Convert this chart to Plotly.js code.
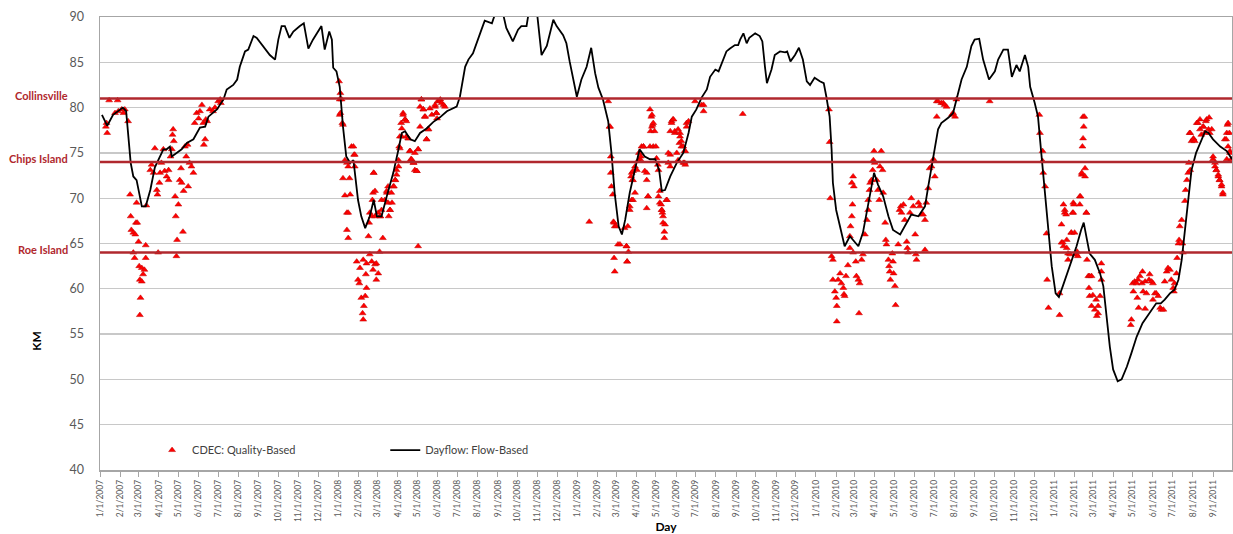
<!DOCTYPE html>
<html>
<head>
<meta charset="utf-8">
<script src="https://cdn.plot.ly/plotly-3.0.1.min.js"></script>
<style>html,body{margin:0;padding:0;background:#fff;}#chart{width:1233px;height:534px;}</style>
</head>
<body>
<div id="chart"></div>
<script>
// Days counted from 1/1/2007 (day 0)
const startDate = '2007-01-01';

// Dayflow: Flow-Based (X2, km) – day offsets and values
const flowDay = [3,11,20,35,40,43,47,51,56,61,64,70,77,84,97,102,107,110,117,125,133,143,153,161,166,179,189,194,204,210,214,222,227,235,240,250,260,268,273,278,283,290,296,306,312,319,326,339,344,351,355,357,362,367,372,377,383,388,395,400,406,413,419,424,431,439,449,457,462,467,475,482,490,500,510,520,531,546,551,559,564,571,576,584,589,600,607,615,622,632,640,645,653,657,663,669,676,684,694,699,709,714,719,730,737,745,752,758,763,770,778,783,788,794,799,804,811,819,826,834,842,850,856,860,865,873,883,893,901,906,913,921,929,934,942,947,952,959,964,972,977,980,985,990,994,1003,1010,1014,1018,1021,1028,1033,1041,1049,1052,1057,1064,1070,1076,1082,1087,1094,1102,1108,1112,1117,1120,1122,1127,1135,1140,1148,1156,1161,1168,1174,1179,1185,1191,1199,1207,1214,1225,1232,1242,1253,1263,1268,1276,1283,1288,1299,1306,1314,1319,1327,1334,1339,1346,1352,1361,1370,1375,1383,1390,1396,1403,1408,1416,1421,1424,1431,1436,1441,1446,1452,1457,1463,1468,1474,1485,1495,1502,1506,1511,1515,1523,1531,1536,1541,1546,1551,1558,1564,1572,1579,1587,1596,1602,1610,1617,1624,1630,1638,1645,1651,1656,1661,1666,1671,1678,1684,1692,1697,1704,1715,1725,1733];
const flowKm = [79.2,78.0,79.2,80.0,79.6,77.2,73.9,72.4,72.0,70.2,69.1,69.1,70.9,73.4,75.4,75.4,75.7,74.6,75.0,75.4,76.1,76.5,77.8,77.9,79.0,79.8,80.9,82.0,82.5,83.1,84.5,86.2,86.4,87.9,87.7,86.8,85.8,85.3,87.5,89.0,89.0,87.7,88.4,89.0,89.3,86.5,87.5,89.0,86.4,88.4,87.5,84.4,84.0,82.3,77.9,74.6,73.9,74.2,69.8,68.0,66.7,68.0,69.8,68.0,68.0,70.2,72.8,75.4,77.2,77.4,76.5,76.3,77.2,77.7,78.4,78.9,79.6,80.1,81.2,84.5,85.3,86.0,87.1,88.6,89.6,89.3,90.8,91.0,88.8,87.3,88.6,89.0,89.0,90.8,91.5,90.5,85.8,86.8,89.7,89.0,88.0,87.1,85.1,81.2,83.1,84.5,86.6,83.8,82.2,80.9,78.5,75.0,70.5,66.9,66.0,67.6,70.6,73.1,75.4,74.6,74.3,74.3,73.1,70.8,70.9,72.4,73.9,75.0,77.2,79.0,79.8,81.1,82.0,83.4,84.2,84.0,84.9,86.2,86.5,86.9,86.9,87.5,88.2,87.1,87.7,88.2,87.9,87.3,84.5,82.7,84.2,85.8,86.2,86.1,86.2,85.1,85.8,86.6,85.3,82.9,82.5,83.3,82.9,82.7,81.2,79.0,75.4,71.7,68.7,66.2,64.7,65.8,65.1,64.7,66.2,68.4,70.6,72.8,71.5,70.2,68.0,66.5,66.0,66.9,68.2,68.0,69.1,71.3,74.6,77.6,78.3,78.9,79.4,81.6,83.1,84.5,86.8,87.5,87.6,85.3,83.1,84.0,85.3,86.4,86.4,83.4,84.7,84.0,85.8,84.5,82.3,80.5,79.0,75.0,71.0,66.0,62.5,59.5,59.1,60.3,62.5,64.7,66.5,67.3,65.4,63.9,63.2,61.7,60.3,56.6,53.6,51.1,49.8,50.0,51.4,52.9,54.7,56.2,56.8,57.7,58.4,58.4,58.8,59.5,59.9,61.0,63.2,66.5,70.2,73.1,75.0,76.1,77.4,77.2,76.5,75.7,75.2,74.3];

// CDEC: Quality-Based (X2, km) – day offsets and values
const cdecDay = [9,10,11,14,23,27,28,33,36,38,43,46,47,48,51,51,53,54,55,56,57,59,60,61,61,62,64,64,66,68,70,70,71,77,79,82,84,87,88,89,91,92,94,97,99,102,105,105,108,110,111,112,113,115,116,117,118,120,122,124,125,127,128,130,132,134,135,137,140,143,145,148,151,153,156,158,159,161,162,164,168,173,176,181,184,185,
366,367,367,368,368,370,371,372,372,375,375,378,378,378,380,380,380,382,383,385,388,389,390,390,393,395,397,398,400,402,403,403,404,406,407,408,408,411,412,413,413,416,416,417,418,418,419,419,421,421,421,423,423,426,426,428,429,429,431,431,433,436,439,439,441,441,442,444,444,446,447,449,450,452,452,454,454,457,457,458,459,459,461,462,462,464,464,467,467,469,469,472,472,474,475,476,477,480,480,482,482,485,485,487,487,487,490,490,492,492,495,495,497,498,500,500,502,503,505,508,513,513,515,515,516,517,520,521,523,526,528,
749,778,780,781,782,782,783,785,786,787,787,788,788,790,793,796,803,806,806,807,807,808,809,811,811,813,814,814,815,816,816,816,819,819,822,824,825,827,828,829,832,832,834,837,837,837,839,839,842,842,843,844,845,845,846,847,847,849,851,852,854,855,855,857,857,859,860,860,861,862,862,864,864,865,867,868,870,870,873,873,873,875,875,877,878,880,880,883,885,885,887,888,888,890,890,893,893,895,895,896,896,898,898,901,911,921,924,924,984,
1116,1117,1118,1120,1122,1122,1125,1127,1128,1128,1130,1133,1135,1138,1139,1140,1142,1145,1148,1148,1149,1151,1151,1152,1153,1153,1154,1157,1158,1161,1162,1163,1166,1168,1171,1174,1176,1176,1178,1179,1181,1183,1184,1185,1186,1189,1191,1193,1194,1196,1198,1199,1202,1203,1204,1207,1208,1209,1210,1213,1214,1215,1217,1218,1222,1224,1226,1227,1230,1232,1235,1236,1237,1240,1242,1245,1248,1249,1250,1253,1255,1258,1260,1263,1263,1265,1268,1270,1273,1276,1278,1281,1281,1283,1288,1291,1293,1296,1304,1306,1309,1311,1362,
1438,1439,1443,1443,1444,1447,1449,1450,1452,1469,1469,1472,1472,1474,1475,1475,1477,1477,1479,1480,1480,1482,1482,1485,1487,1487,1489,1490,1490,1491,1492,1494,1495,1496,1497,1500,1500,1501,1503,1503,1504,1505,1505,1506,1507,1508,1508,1510,1510,1511,1513,1514,1515,1515,1518,1518,1520,1523,1525,1526,1528,1528,1531,1533,1533,1533,
1578,1579,1581,1582,1584,1587,1588,1589,1590,1592,1595,1596,1597,1600,1600,1602,1606,1607,1610,1612,1612,1615,1617,1620,1623,1625,1628,1630,1633,1635,1638,1640,1643,1644,1645,1648,1649,1651,1652,1653,1656,1657,1658,1661,1662,1664,1666,1667,1668,1669,1669,1671,1674,1674,1676,1679,1681,1684,1684,1686,1689,1689,1691,1693,1694,1697,1698,1699,1702,1704,1704,1707,1707,1709,1709,1712,1712,1714,1714,1717,1717,1719,1719,1722,1724,1725,1725,1726,1727,1727,1729,1730,1730,1732];
const cdecKm = [77.9,78.3,77.2,80.8,79.4,80.8,79.6,79.8,79.4,79.8,78.5,70.4,68.0,66.5,66.2,64.0,63.4,66.0,67.3,69.5,67.3,65.2,62.5,61.0,57.1,59.0,62.3,60.8,61.6,62.1,63.4,64.8,69.2,73.1,73.7,72.8,75.5,70.9,70.4,64.0,71.7,72.8,73.9,75.4,73.0,72.4,72.0,73.1,74.6,75.4,77.0,77.6,76.3,70.2,68.0,63.6,65.4,69.3,72.0,73.3,71.7,66.3,70.8,75.7,74.6,75.9,71.3,73.9,73.5,72.8,78.3,79.4,78.8,79.6,80.3,78.3,75.9,76.5,78.7,78.5,79.8,79.6,80.0,80.7,80.9,80.5,
82.9,80.9,79.2,79.4,81.6,80.9,78.3,72.2,78.1,74.2,70.3,73.9,68.4,66.5,73.5,68.4,65.6,72.2,70.4,75.7,75.7,74.8,73.5,74.8,63.0,61.0,60.6,62.3,59.0,57.3,63.2,56.6,58.1,59.2,61.6,62.8,60.1,65.8,67.3,63.8,68.4,63.0,68.0,69.8,62.1,70.6,72.8,72.8,70.8,62.7,68.0,62.8,61.0,61.7,68.4,64.1,68.0,68.0,68.7,69.8,65.6,69.8,70.6,70.8,71.3,69.5,68.0,68.7,68.7,70.6,69.5,71.3,71.3,72.0,72.0,72.6,73.1,73.5,74.2,75.7,75.5,76.8,78.3,77.7,76.8,79.4,79.2,78.7,78.7,76.8,78.5,76.6,76.6,75.2,75.2,74.3,74.3,73.9,73.9,73.1,75.0,73.0,73.0,75.4,64.7,75.4,77.9,80.1,80.9,80.9,79.8,79.8,79.0,79.0,76.5,76.5,77.6,77.6,79.9,79.2,80.1,80.3,79.4,79.4,78.8,80.7,80.7,80.9,80.5,80.3,80.1,
67.4,80.7,77.9,77.9,74.6,72.8,71.3,70.4,67.4,63.4,67.3,66.9,61.9,66.9,64.9,64.9,66.7,64.7,64.7,63.0,63.0,66.9,64.1,69.1,68.7,72.4,69.8,72.8,72.0,73.0,72.0,69.8,73.5,70.6,73.1,74.2,75.0,74.3,74.6,75.7,75.7,75.7,73.0,72.0,72.8,68.9,70.2,70.2,75.7,79.8,77.4,79.0,79.2,77.9,78.1,75.7,78.3,77.4,75.7,74.4,73.7,73.1,70.2,70.8,69.5,69.3,68.7,68.7,68.4,67.3,68.0,66.3,65.6,67.1,69.8,69.8,73.9,75.0,74.8,77.4,73.5,78.5,78.3,78.7,78.7,77.2,77.4,75.0,77.6,74.2,76.1,76.8,77.2,76.3,75.7,75.7,73.9,75.2,73.9,75.2,73.7,78.3,77.9,78.5,80.7,80.3,80.3,79.6,79.3,
79.8,76.2,70.0,63.6,63.2,61.0,59.7,59.0,58.1,56.4,61.0,61.7,60.6,60.1,59.4,59.2,61.4,62.6,64.5,65.8,66.9,68.0,71.7,69.3,72.4,64.0,71.3,63.0,61.4,61.0,57.3,60.6,63.2,63.8,66.0,67.6,68.7,69.8,70.9,71.7,72.0,73.1,74.2,75.2,73.9,72.0,70.9,69.8,73.5,75.2,73.1,70.6,67.3,65.4,64.9,63.2,62.5,61.9,61.0,63.9,63.0,61.7,60.3,58.2,64.9,68.7,69.1,68.4,69.3,67.6,65.2,64.5,64.0,68.4,70.0,69.1,66.0,63.8,63.2,69.5,69.1,68.2,68.2,67.6,64.3,69.5,71.1,73.3,73.5,74.3,72.4,79.0,80.7,80.7,80.5,80.5,80.3,80.1,79.2,79.4,79.0,80.9,80.7,
79.2,77.2,75.2,74.1,72.8,71.3,66.1,61.0,57.9,57.1,59.5,67.1,65.1,65.1,69.3,64.7,68.7,68.4,68.2,65.4,64.5,63.2,63.9,63.8,66.2,66.2,68.4,69.5,68.4,69.3,66.2,63.8,63.8,64.1,63.6,69.3,70.2,70.2,72.6,72.8,75.7,76.6,79.0,77.9,79.0,73.3,72.4,68.4,68.4,63.2,61.4,60.1,61.4,59.2,61.4,58.1,59.3,57.7,58.8,57.0,57.3,58.1,59.2,61.0,61.9,62.8,
56.0,56.6,60.6,59.7,60.8,60.6,59.0,61.0,57.9,61.4,60.6,61.9,59.7,60.8,57.8,59.5,61.0,61.6,60.8,60.6,58.8,59.5,59.5,59.2,57.9,57.7,57.7,60.8,61.9,62.3,62.1,61.0,60.1,59.7,60.6,61.7,63.4,65.0,65.4,66.9,67.6,65.0,64.0,69.7,70.9,72.0,72.8,73.9,77.2,73.1,77.2,76.3,76.6,76.5,76.3,78.3,78.3,77.6,78.7,77.0,77.9,77.9,77.2,78.5,78.7,77.6,78.9,77.2,77.6,74.3,74.6,73.5,73.9,73.1,73.1,72.6,72.4,72.0,72.0,71.3,71.5,70.4,70.6,76.5,76.5,74.3,77.2,78.1,78.3,75.7,77.2,75.2,75.0,74.3];

// Reference locations (km)
const refNames = ['Collinsville', 'Chips Island', 'Roe Island'];
const refKm = [81, 74, 64];

const axisRange = ['2007-01-01', '2011-09-30'];
const yRange = [40, 90];

function toDate(d) {
  const t = Date.UTC(2007, 0, 1) + d * 86400000;
  return new Date(t).toISOString().slice(0, 10);
}

const font = 'Lato, "Open Sans", "DejaVu Sans", sans-serif';
const refColor = '#B0282E';

const traces = [
  {
    name: 'CDEC: Quality-Based',
    x: cdecDay.map(toDate),
    y: cdecKm,
    type: 'scatter',
    mode: 'markers',
    marker: {symbol: 'triangle-up', size: 6, color: '#FF0000', line: {width: 0.5, color: '#C00000'}},
    legend: 'legend'
  },
  {
    name: 'Dayflow: Flow-Based',
    x: flowDay.map(toDate),
    y: flowKm,
    type: 'scatter',
    mode: 'lines',
    line: {color: '#000000', width: 1.8},
    legend: 'legend2'
  }
];

const shapes = refKm.map(v => ({
  type: 'line', xref: 'paper', x0: 0, x1: 1, yref: 'y', y0: v, y1: v,
  line: {color: refColor, width: 2.5}, layer: 'above'
}));

const annotations = refNames.map((n, i) => ({
  text: '<b>' + n + '</b>', xref: 'paper', x: -0.027, xanchor: 'right',
  yref: 'y', y: refKm[i], yanchor: 'middle', yshift: 3, showarrow: false,
  borderpad: 0,
  font: {family: font, size: 11, color: refColor}
}));
annotations.push({
  text: '<b>KM</b>', xref: 'paper', x: -0.0557, xanchor: 'center',
  yref: 'paper', y: 0.285, yanchor: 'middle', textangle: -90, showarrow: false,
  font: {family: font, size: 12, color: '#000'}
});

const layout = {
  width: 1233, height: 534,
  margin: {l: 100, r: 1, t: 17, b: 64},
  paper_bgcolor: '#fff', plot_bgcolor: '#fff',
  font: {family: font, color: '#595959'},
  showlegend: true,
  legend: {x: 0.046, y: 0.044, xanchor: 'left', yanchor: 'middle', bgcolor: 'rgba(0,0,0,0)',
           font: {family: font, size: 11, color: '#404040'}},
  legend2: {x: 0.252, y: 0.044, xanchor: 'left', yanchor: 'middle', bgcolor: 'rgba(0,0,0,0)',
           font: {family: font, size: 11, color: '#404040'}},
  xaxis: {
    type: 'date', range: axisRange, tick0: '2007-01-01', dtick: 'M1',
    tickformat: '%-m/%-d/%Y', tickangle: -90, tickfont: {size: 8.5, color: '#595959'},
    ticks: 'outside', ticklen: 5, tickcolor: '#A6A6A6',
    showgrid: false, zeroline: false,
    showline: true, linecolor: '#A6A6A6', linewidth: 1.5, mirror: true,
    title: {text: '<b>Day</b>', font: {size: 12, color: '#000'}, standoff: 2},
    automargin: false
  },
  yaxis: {
    range: yRange, dtick: 5, tick0: 40,
    tickfont: {size: 12.5, color: '#595959'},
    showgrid: true, gridcolor: '#C8C8C8', gridwidth: 1.3, zeroline: false,
    showline: true, linecolor: '#A6A6A6', linewidth: 1.5, mirror: true,
    ticks: '', ticklabelstandoff: 12,
    automargin: false
  },
  shapes: shapes,
  annotations: annotations
};

Plotly.newPlot('chart', traces, layout, {displayModeBar: false, staticPlot: true});
</script>
</body>
</html>
